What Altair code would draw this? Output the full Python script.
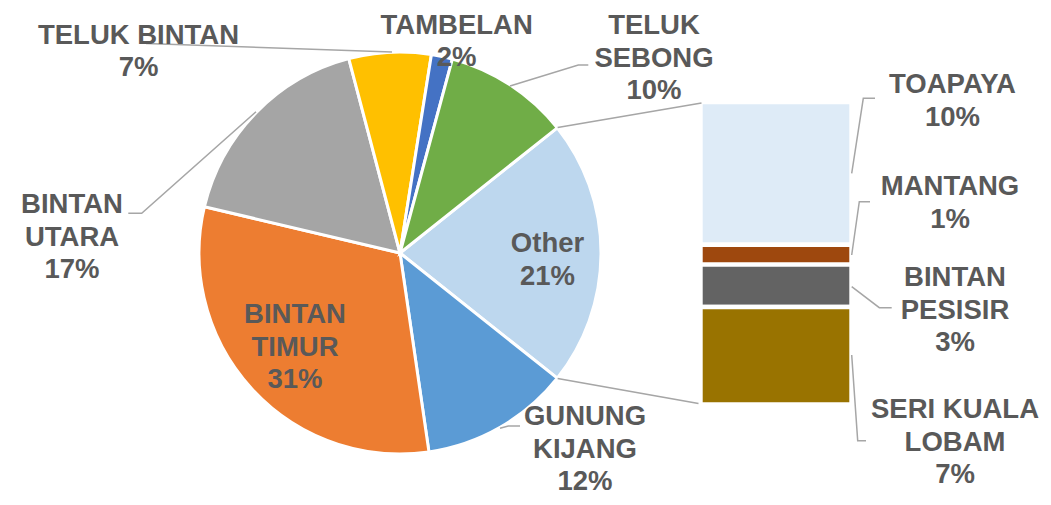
import math
import altair as alt
import pandas as pd

# ---------------- data ----------------
MAIN_NAMES = ["GUNUNG KIJANG", "BINTAN TIMUR", "BINTAN UTARA", "TELUK BINTAN", "TAMBELAN", "TELUK SEBONG"]
MAIN_VALUES = [12.0, 31.0, 17.2, 6.6, 1.7, 10.1]
SUB_NAMES = ["TOAPAYA", "MANTANG", "BINTAN PESISIR", "SERI KUALA LOBAM"]
SUB_VALUES = [10.1, 1.4, 3.0, 6.9]
OTHER_NAME = "Other"

MAIN_COLORS = ["#5B9BD5", "#ED7D31", "#A5A5A5", "#FFC000", "#4472C4", "#70AD47"]
OTHER_COLOR = "#BDD7EE"
SUB_COLORS = ["#DEEBF7", "#9E480E", "#636363", "#997300"]

LABEL_LINES = {
    "Other": ["Other"],
    "GUNUNG KIJANG": ["GUNUNG", "KIJANG"],
    "BINTAN TIMUR": ["BINTAN", "TIMUR"],
    "BINTAN UTARA": ["BINTAN", "UTARA"],
    "TELUK BINTAN": ["TELUK BINTAN"],
    "TAMBELAN": ["TAMBELAN"],
    "TELUK SEBONG": ["TELUK", "SEBONG"],
    "TOAPAYA": ["TOAPAYA"],
    "MANTANG": ["MANTANG"],
    "BINTAN PESISIR": ["BINTAN", "PESISIR"],
    "SERI KUALA LOBAM": ["SERI KUALA", "LOBAM"],
}

# ---------------- layout (page pixels) ----------------
OX, OY = 8, 8            # page margin
W, H = 1035, 489
CX, CY, R = 400, 253, 201
BX0, BX1, BTOP, BBOT = 700.5, 851.5, 102.1, 404.5

LABEL_POS = {
    "TELUK BINTAN": (138.5, 43.5),
    "TAMBELAN": (456.7, 33.5),
    "TELUK SEBONG": (654, 34),
    "BINTAN UTARA": (72, 213),
    "BINTAN TIMUR": (295, 323),
    "Other": (547.5, 252),
    "GUNUNG KIJANG": (585, 425),
    "TOAPAYA": (952.5, 93),
    "MANTANG": (950, 195),
    "BINTAN PESISIR": (955, 286),
    "SERI KUALA LOBAM": (955, 418),
}
LEADERS = {
    "TELUK BINTAN": [(146, 43.5), (392, 52)],
    "BINTAN UTARA": [(128.3, 213.3), (141.7, 213.3), (256, 111.7)],
    "TELUK SEBONG": [(588.3, 65), (578.3, 65), (510, 86)],
    "GUNUNG KIJANG": [(520, 426), (508.3, 426), (500, 428.3)],
    "TOAPAYA": [(875, 98.3), (863.3, 98.3), (851.7, 173.3)],
    "MANTANG": [(870, 201.7), (859.3, 201.7), (851.7, 255)],
    "BINTAN PESISIR": [(891.7, 307.7), (879.3, 307.7), (851.7, 286.7)],
    "SERI KUALA LOBAM": [(866, 440.7), (857.7, 440.7), (851.7, 355)],
}

# ---------------- derived tables ----------------
other_value = sum(SUB_VALUES)
total = sum(MAIN_VALUES) + other_value

pie_names = [OTHER_NAME] + MAIN_NAMES
pie_values = [other_value] + MAIN_VALUES
pie_df = pd.DataFrame({"name": pie_names, "value": pie_values, "idx": list(range(len(pie_names)))})

bar_df = pd.DataFrame({
    "name": SUB_NAMES,
    "value": SUB_VALUES,
    "stackorder": [len(SUB_NAMES) - i for i in range(len(SUB_NAMES))],
})

color_scale = alt.Scale(domain=pie_names + SUB_NAMES,
                        range=[OTHER_COLOR] + MAIN_COLORS + SUB_COLORS)

a0 = math.pi / 2 - math.pi * other_value / total
a1 = a0 + 2 * math.pi * other_value / total

all_names = pie_names + SUB_NAMES
all_values = pie_values + SUB_VALUES
label_rows = []
for n, v in zip(all_names, all_values):
    x, y = LABEL_POS[n]
    label_rows.append({"x": x, "y": y, "text": LABEL_LINES[n] + [f"{round(v / total * 100)}%"]})
label_df = pd.DataFrame(label_rows)

line_rows = []
for n, pts in LEADERS.items():
    for k, (x, y) in enumerate(pts):
        line_rows.append({"group": n, "pt": k, "x": x, "y": y})
Re = R + 0.5
for gname, ang, end in [("conn_top", a0, (BX0 + 1, BTOP + 1)), ("conn_bot", a1, (BX0 - 2, BBOT - 1))]:
    line_rows.append({"group": gname, "pt": 0, "x": CX + Re * math.sin(ang), "y": CY - Re * math.cos(ang)})
    line_rows.append({"group": gname, "pt": 1, "x": end[0], "y": end[1]})
line_df = pd.DataFrame(line_rows)

xs = alt.Scale(domain=[OX, OX + W], range=[0, W], nice=False, zero=False)
ys = alt.Scale(domain=[OY, OY + H], range=[0, H], nice=False, zero=False)

# ---------------- layers ----------------
pie = alt.Chart(pie_df).mark_arc(outerRadius=R, stroke="white", strokeWidth=3).encode(
    theta=alt.Theta("value:Q", stack=True,
                    scale=alt.Scale(domain=[0, total], range=[a0, a0 + 2 * math.pi])),
    order=alt.Order("idx:Q"),
    color=alt.Color("name:N", scale=color_scale, legend=None),
    x=alt.value(CX - OX),
    y=alt.value(CY - OY),
)

bar = alt.Chart(bar_df).transform_stack(
    stack="value", groupby=[], as_=["y0", "y1"],
    sort=[alt.SortField("stackorder", order="ascending")],
).mark_rect(stroke="white", strokeWidth=4.4).encode(
    x=alt.value(BX0 - OX),
    x2=alt.value(BX1 - OX),
    y=alt.Y("y0:Q", scale=alt.Scale(domain=[0, other_value], range=[BBOT - OY, BTOP - OY],
                                    nice=False, zero=False), axis=None),
    y2="y1:Q",
    color=alt.Color("name:N", scale=color_scale, legend=None),
)

lines = alt.Chart(line_df).mark_line(color="#A6A6A6", strokeWidth=1.5).encode(
    x=alt.X("x:Q", scale=xs, axis=None),
    y=alt.Y("y:Q", scale=ys, axis=None),
    detail="group:N",
    order="pt:Q",
)

labels = alt.Chart(label_df).mark_text(
    align="center", baseline="alphabetic", font="Liberation Sans", fontWeight="bold",
    fontSize=27.5, lineHeight=32.5, color="#595959",
).encode(
    x=alt.X("x:Q", scale=xs, axis=None),
    y=alt.Y("y:Q", scale=ys, axis=None),
    text="text",
)

chart = alt.layer(pie, bar, lines, labels).resolve_scale(
    x="independent", y="independent"
).properties(
    width=W, height=H, padding=0, autosize="none", background="white"
).configure_view(stroke=None)

chart.save("out.html", embed_options={"renderer": "svg", "actions": False})
